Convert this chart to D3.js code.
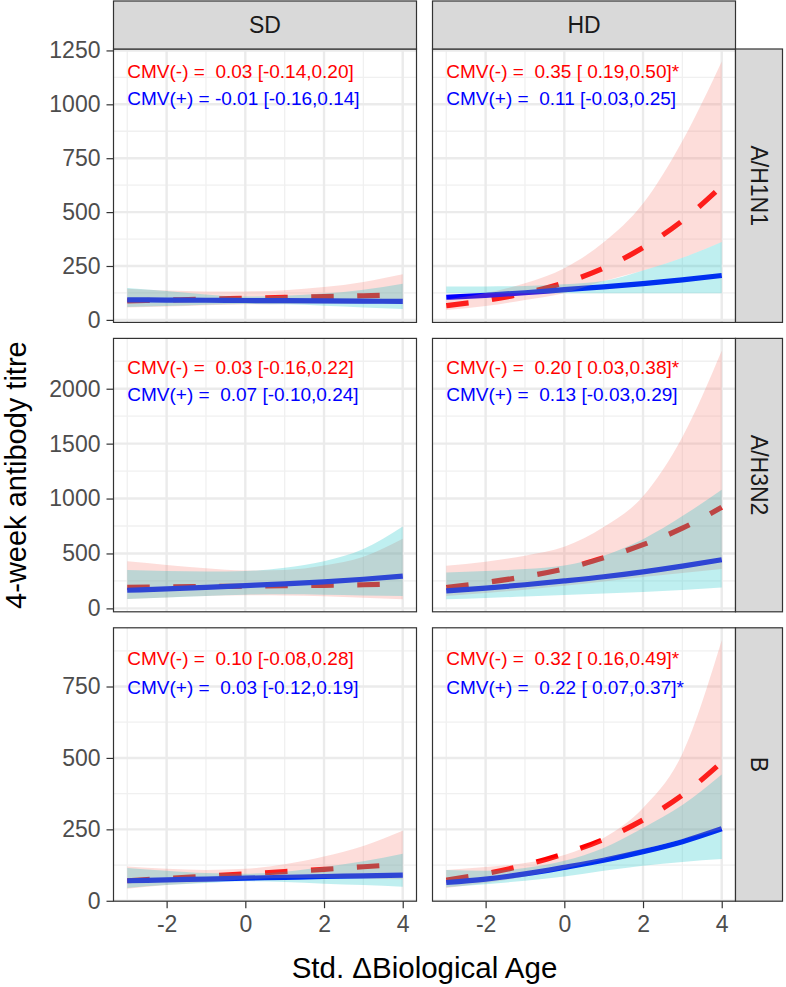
<!DOCTYPE html>
<html><head><meta charset="utf-8">
<script src="https://cdn.jsdelivr.net/npm/d3@7/dist/d3.min.js"></script>
<style>
body{margin:0;background:#fff}
svg{display:block}
text{font-family:"Liberation Sans",Arial,Helvetica,sans-serif}
</style>
</head><body>
<svg id="chart" width="786" height="987"></svg>
<script>
// ---------------- DATA ----------------
const ages = [-3, -2, -1, 0, 1, 2, 3, 4];
const doses = ["SD", "HD"];
const strains = ["A/H1N1", "A/H3N2", "B"];
const xTicks = [-2, 0, 2, 4];
const yTicksH1N1 = [0, 250, 500, 750, 1000, 1250];
const yTicksH3N2 = [0, 500, 1000, 1500, 2000];
const yTicksB = [0, 250, 500, 750];
const xTitle = "Std. \u0394Biological Age";
const yTitle = "4-week antibody titre";

// A/H1N1 SD
const h1n1SdNegFit = [88, 92, 96, 100, 104, 108, 112, 117];
const h1n1SdNegLo  = [57, 62, 68, 72, 74, 75, 75, 74];
const h1n1SdNegHi  = [145, 136, 132, 132, 138, 152, 176, 212];
const h1n1SdPosFit = [93, 92, 91, 90, 89, 88, 87, 86];
const h1n1SdPosLo  = [60, 64, 70, 74, 72, 66, 58, 50];
const h1n1SdPosHi  = [148, 134, 118, 108, 112, 122, 140, 168];
// A/H1N1 HD
const h1n1HdNegFit = [66, 90, 124, 172, 240, 335, 460, 620];
const h1n1HdNegLo  = [46, 64, 92, 125, 180, 229, 288, 361];
const h1n1HdNegHi  = [95, 125, 170, 240, 360, 540, 830, 1199];
const h1n1HdPosFit = [105, 114, 126, 140, 153, 168, 186, 206];
const h1n1HdPosLo  = [124, 124, 124, 124, 124, 124, 124, 124];
const h1n1HdPosHi  = [155, 155, 157, 165, 180, 229, 288, 361];
// A/H3N2 SD
const h3n2SdNegFit = [192, 196, 199, 202, 206, 210, 215, 222];
const h3n2SdNegLo  = [85, 100, 112, 120, 118, 110, 97, 83];
const h3n2SdNegHi  = [428, 395, 365, 345, 350, 390, 470, 633];
const h3n2SdPosFit = [165, 178, 192, 207, 223, 242, 265, 293];
const h3n2SdPosLo  = [85, 100, 112, 125, 128, 125, 118, 113];
const h3n2SdPosHi  = [349, 340, 335, 340, 370, 430, 540, 746];
// A/H3N2 HD
const h3n2HdNegFit = [190, 235, 290, 360, 460, 580, 730, 920];
const h3n2HdNegLo  = [113, 140, 170, 205, 245, 285, 322, 358];
const h3n2HdNegHi  = [388, 425, 480, 560, 740, 1020, 1560, 2345];
const h3n2HdPosFit = [159, 185, 215, 250, 288, 333, 385, 443];
const h3n2HdPosLo  = [82, 95, 108, 122, 135, 150, 168, 189];
const h3n2HdPosHi  = [327, 340, 358, 390, 480, 630, 840, 1080];
// B SD
const bSdNegFit = [70, 78, 86, 94, 102, 110, 119, 128];
const bSdNegLo  = [42, 55, 65, 75, 80, 80, 78, 75];
const bSdNegHi  = [120, 112, 108, 112, 128, 155, 192, 245];
const bSdPosFit = [70, 73, 76, 79, 82, 85, 87, 90];
const bSdPosLo  = [45, 55, 62, 68, 66, 60, 55, 49];
const bSdPosHi  = [115, 105, 97, 95, 102, 118, 138, 165];
// B HD
const bHdNegFit = [72, 95, 125, 165, 215, 283, 370, 485];
const bHdNegLo  = [45, 62, 85, 112, 145, 180, 215, 250];
const bHdNegHi  = [108, 118, 132, 160, 220, 325, 515, 912];
const bHdPosFit = [64, 76, 94, 117, 142, 172, 207, 252];
const bHdPosLo  = [47, 58, 70, 85, 105, 123, 136, 146];
const bHdPosHi  = [108, 105, 115, 140, 185, 255, 335, 442];

// annotation text (rows: strains, cols: doses)
const labelsNeg = [
  ["CMV(-) =  0.03 [-0.14,0.20]", "CMV(-) =  0.35 [ 0.19,0.50]*"],
  ["CMV(-) =  0.03 [-0.16,0.22]", "CMV(-) =  0.20 [ 0.03,0.38]*"],
  ["CMV(-) =  0.10 [-0.08,0.28]", "CMV(-) =  0.32 [ 0.16,0.49]*"]
];
const labelsPos = [
  ["CMV(+) = -0.01 [-0.16,0.14]", "CMV(+) =  0.11 [-0.03,0.25]"],
  ["CMV(+) =  0.07 [-0.10,0.24]", "CMV(+) =  0.13 [-0.03,0.29]"],
  ["CMV(+) =  0.03 [-0.12,0.19]", "CMV(+) =  0.22 [ 0.07,0.37]*"]
];
// annotation y positions in data units (per strain row)
const labelYNeg = [1152, 2193, 847];
const labelYPos = [1028, 1948, 748];
const labelX = -3;

// ---------------- BUILD ----------------
const yTicksByRow = [yTicksH1N1, yTicksH3N2, yTicksB];
const series = [
  [[h1n1SdNegFit, h1n1SdNegLo, h1n1SdNegHi, h1n1SdPosFit, h1n1SdPosLo, h1n1SdPosHi],
   [h1n1HdNegFit, h1n1HdNegLo, h1n1HdNegHi, h1n1HdPosFit, h1n1HdPosLo, h1n1HdPosHi]],
  [[h3n2SdNegFit, h3n2SdNegLo, h3n2SdNegHi, h3n2SdPosFit, h3n2SdPosLo, h3n2SdPosHi],
   [h3n2HdNegFit, h3n2HdNegLo, h3n2HdNegHi, h3n2HdPosFit, h3n2HdPosLo, h3n2HdPosHi]],
  [[bSdNegFit, bSdNegLo, bSdNegHi, bSdPosFit, bSdPosLo, bSdPosHi],
   [bHdNegFit, bHdNegLo, bHdNegHi, bHdPosFit, bHdPosLo, bHdPosHi]]
];

const svg = d3.select("#chart");
const colX = [113.5, 432.5], panelW = 303;
const rowY = [49, 338.4, 627.8], panelH = 273.4;
const stripTop = 1, stripH = 48, stripRX = 735.5, stripRW = 47;

function expand(ext) { const r = ext[1] - ext[0]; return [ext[0] - 0.05 * r, ext[1] + 0.05 * r]; }
const xDom = expand(d3.extent(ages));

const redLine = "#FF0000", blueLine = "#0000FF";
const pinkFill = "#F8766D", tealFill = "#00BFC4", ribbonAlpha = 0.25;
const fmt = d => String(d);

strains.forEach((strain, r) => {
  const allVals = series[r].flat(2);
  const y = d3.scaleLinear().domain(expand(d3.extent(allVals))).range([rowY[r] + panelH, rowY[r]]);
  const yt = yTicksByRow[r];
  const step = yt[1] - yt[0];
  const minor = d3.range(yt[0] - step / 2, y.domain()[1], step).filter(v => v > y.domain()[0] && v < y.domain()[1]);

  doses.forEach((dose, c) => {
    const x = d3.scaleLinear().domain(xDom).range([colX[c], colX[c] + panelW]);
    const xMinor = d3.range(xTicks[0] - 1, xDom[1], 2).filter(v => v > xDom[0] && v < xDom[1]);
    const g = svg.append("g");
    const cid = "clip" + r + c;
    svg.append("clipPath").attr("id", cid).append("rect")
      .attr("x", colX[c]).attr("y", rowY[r]).attr("width", panelW).attr("height", panelH);
    const pg = g.append("g").attr("clip-path", `url(#${cid})`);
    pg.append("rect").attr("x", colX[c]).attr("y", rowY[r]).attr("width", panelW).attr("height", panelH).attr("fill", "#fff");
    // minor grid
    pg.selectAll(".hmin").data(minor).join("line")
      .attr("x1", colX[c]).attr("x2", colX[c] + panelW).attr("y1", d => y(d)).attr("y2", d => y(d))
      .attr("stroke", "#F0F0F0").attr("stroke-width", 1.3);
    pg.selectAll(".vmin").data(xMinor).join("line")
      .attr("y1", rowY[r]).attr("y2", rowY[r] + panelH).attr("x1", d => x(d)).attr("x2", d => x(d))
      .attr("stroke", "#F0F0F0").attr("stroke-width", 1.3);
    // major grid
    pg.selectAll(".hmaj").data(yt).join("line")
      .attr("x1", colX[c]).attr("x2", colX[c] + panelW).attr("y1", d => y(d)).attr("y2", d => y(d))
      .attr("stroke", "#EBEBEB").attr("stroke-width", 2.4);
    pg.selectAll(".vmaj").data(xTicks).join("line")
      .attr("y1", rowY[r]).attr("y2", rowY[r] + panelH).attr("x1", d => x(d)).attr("x2", d => x(d))
      .attr("stroke", "#EBEBEB").attr("stroke-width", 2.4);

    const [nf, nl, nh, pf, pl, ph] = series[r][c];
    const line = d3.line().x((d, i) => x(ages[i])).y(d => y(d)).curve(d3.curveMonotoneX);
    const area = (lo, hi) => d3.area().x((d, i) => x(ages[i])).y0((d, i) => y(lo[i])).y1((d, i) => y(hi[i])).curve(d3.curveMonotoneX)(ages);

    pg.append("path").attr("d", line(nf)).attr("fill", "none").attr("stroke", redLine)
      .attr("stroke-width", 5.2).attr("stroke-dasharray", "22.5,23.5");
    pg.append("path").attr("d", line(pf)).attr("fill", "none").attr("stroke", blueLine)
      .attr("stroke-width", 5.2);
    pg.append("path").attr("d", area(nl, nh)).attr("fill", pinkFill).attr("fill-opacity", ribbonAlpha);
    pg.append("path").attr("d", area(pl, ph)).attr("fill", tealFill).attr("fill-opacity", ribbonAlpha);

    pg.append("text").attr("x", x(labelX)).attr("y", y(labelYNeg[r])).attr("dominant-baseline", "central")
      .style("white-space", "pre").attr("font-size", 19).attr("fill", "#FF0000").text(labelsNeg[r][c]);
    pg.append("text").attr("x", x(labelX)).attr("y", y(labelYPos[r])).attr("dominant-baseline", "central")
      .style("white-space", "pre").attr("font-size", 19).attr("fill", "#0000FF").text(labelsPos[r][c]);

    g.append("rect").attr("x", colX[c]).attr("y", rowY[r]).attr("width", panelW).attr("height", panelH)
      .attr("fill", "none").attr("stroke", "#333333").attr("stroke-width", 1.2);

    // y axis on first column
    if (c === 0) {
      const ax = svg.append("g").attr("transform", `translate(${colX[0]},0)`)
        .call(d3.axisLeft(y).tickValues(yt).tickSize(7).tickPadding(6).tickFormat(fmt));
      ax.select(".domain").remove();
      ax.selectAll("line").attr("stroke", "#333333").attr("stroke-width", 1.2);
      ax.selectAll("text").attr("font-size", 23).attr("fill", "#4D4D4D").attr("font-family", "Liberation Sans, Arial, sans-serif");
    }
    // x axis on last row
    if (r === strains.length - 1) {
      const ax = svg.append("g").attr("transform", `translate(0,${rowY[r] + panelH})`)
        .call(d3.axisBottom(x).tickValues(xTicks).tickSize(7).tickPadding(7).tickFormat(fmt));
      ax.select(".domain").remove();
      ax.selectAll("line").attr("stroke", "#333333").attr("stroke-width", 1.2);
      ax.selectAll("text").attr("font-size", 23).attr("fill", "#4D4D4D").attr("font-family", "Liberation Sans, Arial, sans-serif");
    }
    // top strips
    if (r === 0) {
      svg.append("rect").attr("x", colX[c]).attr("y", stripTop).attr("width", panelW).attr("height", stripH)
        .attr("fill", "#D9D9D9").attr("stroke", "#333333").attr("stroke-width", 1.2);
      svg.append("text").attr("x", colX[c] + panelW / 2).attr("y", stripTop + stripH / 2)
        .attr("text-anchor", "middle").attr("dominant-baseline", "central")
        .attr("font-size", 23).attr("fill", "#1A1A1A").text(dose);
    }
  });
  // right strips
  svg.append("rect").attr("x", stripRX).attr("y", rowY[r]).attr("width", stripRW).attr("height", panelH)
    .attr("fill", "#D9D9D9").attr("stroke", "#333333").attr("stroke-width", 1.2);
  const cx = stripRX + stripRW / 2, cy = rowY[r] + panelH / 2;
  svg.append("text").attr("transform", `translate(${cx},${cy}) rotate(90)`)
    .attr("text-anchor", "middle").attr("dominant-baseline", "central")
    .attr("font-size", 23).attr("fill", "#1A1A1A").text(strain);
});

// axis titles
svg.append("text").attr("x", colX[0] + (colX[1] + panelW - colX[0]) / 2).attr("y", 978)
  .attr("text-anchor", "middle").attr("font-size", 29.5).attr("fill", "#000").text(xTitle);
svg.append("text").attr("transform", `translate(26,${(rowY[0] + rowY[2] + panelH) / 2}) rotate(-90)`)
  .attr("text-anchor", "middle").attr("font-size", 29).attr("fill", "#000").text(yTitle);
</script>
</body></html>
